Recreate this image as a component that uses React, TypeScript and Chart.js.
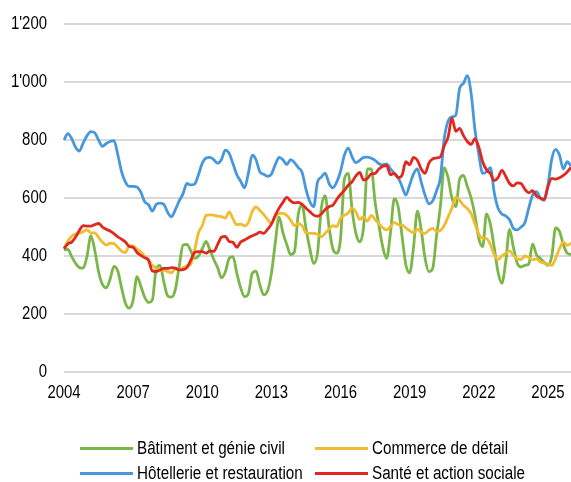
import React, { useEffect, useRef } from "react";
import { Chart, registerables } from "chart.js";

Chart.register(...registerables);

// Bimonthly observations (Jan, Mar, May, Jul, Sep, Nov) from Jan 2004 to Jan 2026
const START_YEAR = 2004;
const MONTHS = ["01", "03", "05", "07", "09", "11"];
const TICK_YEARS = [2004, 2007, 2010, 2013, 2016, 2019, 2022, 2025];
const Y_TICKS = [0, 200, 400, 600, 800, 1000, 1200];

const SERIES_NAMES = [
  "Bâtiment et génie civil",
  "Commerce de détail",
  "Hôtellerie et restauration",
  "Santé et action sociale",
];

const batiment = [
  421, 423, 398, 375, 360, 358,
  400, 470, 420, 346, 302, 290,
  320, 364, 348, 290, 237, 220,
  248, 329, 296, 258, 240, 248,
  355, 368, 310, 262, 258, 285,
  365, 438, 440, 418, 392, 400,
  425, 450, 420, 388, 360, 325,
  345, 392, 398, 340, 290, 260,
  270, 340, 348, 300, 266, 280,
  340, 445, 535, 480, 440, 405,
  415, 545, 575, 495, 426, 374,
  410, 565, 608, 500, 425, 410,
  460, 665, 685, 560, 478, 449,
  500, 700, 700, 585, 505, 430,
  392, 480, 598, 570, 470, 370,
  342, 430, 555, 490, 392, 346,
  358, 470, 572, 705, 670, 600,
  570, 665, 678, 640, 600, 540,
  460, 432, 545, 510, 430, 345,
  306, 380, 492, 430, 375, 362,
  368, 372, 442, 405, 392, 378,
  368, 400, 497, 485, 440, 410,
  405,
];

const commerce = [
  426, 452, 468, 476, 478, 484,
  490, 479, 480, 464, 448, 438,
  444, 443, 430, 417, 412, 436,
  434, 424, 414, 400, 386, 368,
  358, 352, 350, 346, 342, 356,
  352, 360, 366, 372, 420, 480,
  505, 540, 542, 541, 537, 536,
  531, 552, 528, 508, 510, 504,
  515, 553, 569, 557, 543, 526,
  512, 534, 547, 547, 540, 524,
  505, 512, 504, 480, 478, 478,
  475, 466, 478, 492, 505, 501,
  530, 540, 548, 565, 552, 526,
  536, 520, 540, 526, 511, 497,
  490, 502, 516, 508, 507, 497,
  487, 480, 493, 482, 478, 489,
  495, 485, 488, 505, 535, 565,
  603, 592, 575, 564, 546, 510,
  475, 461, 460, 440, 405, 388,
  400, 409, 418, 402, 390, 388,
  400, 395, 387, 390, 380, 375,
  372, 368, 392, 425, 448, 437,
  444,
];

const hotellerie = [
  800, 822, 805, 775, 762, 790,
  815, 829, 825, 800, 778, 788,
  795, 798, 750, 690, 655, 640,
  640, 638, 620, 587, 577, 555,
  578, 582, 578, 550, 535, 560,
  590, 615, 650, 645, 648, 680,
  720, 738, 740, 732, 720, 733,
  765, 754, 718, 680, 658, 635,
  685, 748, 732, 690, 682, 675,
  682, 715, 740, 732, 715, 732,
  722, 705, 688, 630, 588, 570,
  655, 672, 686, 650, 635, 655,
  692, 748, 772, 742, 722, 730,
  740, 741, 737, 730, 718, 714,
  718, 700, 685, 670, 640, 610,
  645, 683, 700, 655, 610, 580,
  590, 625, 670, 805, 865, 880,
  885, 978, 995, 1022, 960, 835,
  750, 685, 690, 705, 620, 565,
  545, 538, 525, 495, 490, 500,
  515, 565, 610, 622, 600, 592,
  645, 735, 768, 748, 700, 725,
  710,
];

const sante = [
  425, 442, 448, 465, 488, 505,
  503, 503, 508, 512, 500, 492,
  486, 477, 466, 458, 448, 433,
  430, 412, 402, 394, 386, 348,
  346, 352, 357, 357, 360, 358,
  352, 353, 360, 385, 412, 415,
  415, 410, 418, 416, 440, 465,
  468, 450, 447, 430, 448, 455,
  463, 470, 475, 482, 478, 492,
  510, 540, 565, 585, 602, 590,
  583, 585, 578, 565, 553, 541,
  537, 545, 560, 570, 575, 595,
  612, 626, 644, 656, 676, 688,
  662, 668, 683, 685, 700, 710,
  712, 680, 685, 670, 678, 725,
  715, 740, 730, 700, 685, 720,
  735, 738, 742, 780, 810, 875,
  830, 840, 815, 795, 785, 805,
  775, 725, 697, 685, 660, 670,
  695, 675, 650, 642, 652, 650,
  630, 618, 625, 607, 600, 595,
  640, 668, 665, 670, 678, 690,
  705,
];

const labels = batiment.map(
  (_, i) => `${START_YEAR + Math.floor(i / MONTHS.length)}-${MONTHS[i % MONTHS.length]}`
);

const COLORS = {
  batiment: "#7ab648",
  commerce: "#f0bc30",
  hotellerie: "#4797dd",
  sante: "#e0281f",
};

const FONT = '"Liberation Sans", Arial, Helvetica, sans-serif';
const FONT_SIZE = 18;
const NARROW = 0.83; // horizontal squeeze to imitate a narrow sans face

const formatThousands = (v: number) =>
  v >= 1000 ? `${Math.floor(v / 1000)}'${String(v % 1000).padStart(3, "0")}` : String(v);

const LEGEND = [
  { name: SERIES_NAMES[0], color: COLORS.batiment, left: 80, top: 448 },
  { name: SERIES_NAMES[1], color: COLORS.commerce, left: 315, top: 448 },
  { name: SERIES_NAMES[2], color: COLORS.hotellerie, left: 80, top: 473 },
  { name: SERIES_NAMES[3], color: COLORS.sante, left: 315, top: 473 },
];

// Draws the axis tick labels in a condensed form
const narrowTicksPlugin = {
  id: "narrowTicks",
  afterDraw(chart: any) {
    const { ctx } = chart;
    const xs = chart.scales.x;
    const ys = chart.scales.y;
    ctx.save();
    ctx.fillStyle = "#000";
    ctx.font = `${FONT_SIZE}px ${FONT}`;
    ctx.textBaseline = "middle";
    ctx.textAlign = "right";
    for (const v of Y_TICKS) {
      ctx.save();
      ctx.translate(ys.right - 17, ys.getPixelForValue(v));
      ctx.scale(NARROW, 1);
      ctx.fillText(formatThousands(v), 0, 0);
      ctx.restore();
    }
    ctx.textAlign = "center";
    for (const yr of TICK_YEARS) {
      const idx = labels.indexOf(`${yr}-01`);
      if (idx < 0) continue;
      ctx.save();
      ctx.translate(xs.getPixelForValue(idx), xs.top + 21.5);
      ctx.scale(NARROW, 1);
      ctx.fillText(String(yr), 0, 0);
      ctx.restore();
    }
    ctx.restore();
  },
};

export default function App() {
  const ref = useRef<HTMLCanvasElement>(null);

  useEffect(() => {
    if (!ref.current) return;
    const common = {
      borderWidth: 2.8,
      pointRadius: 0,
      pointHoverRadius: 0,
      fill: false,
      cubicInterpolationMode: "monotone" as const,
    };
    const chart = new Chart(ref.current, {
      type: "line",
      data: {
        labels,
        // first dataset is drawn on top
        datasets: [
          { label: SERIES_NAMES[3], data: sante, borderColor: COLORS.sante, backgroundColor: COLORS.sante, ...common },
          { label: SERIES_NAMES[2], data: hotellerie, borderColor: COLORS.hotellerie, backgroundColor: COLORS.hotellerie, ...common },
          { label: SERIES_NAMES[1], data: commerce, borderColor: COLORS.commerce, backgroundColor: COLORS.commerce, ...common },
          { label: SERIES_NAMES[0], data: batiment, borderColor: COLORS.batiment, backgroundColor: COLORS.batiment, ...common },
        ],
      },
      options: {
        responsive: false,
        animation: false,
        devicePixelRatio: 1,
        layout: { padding: { left: 11, right: 0, top: 24, bottom: 82 } },
        plugins: {
          legend: { display: false },
          tooltip: { enabled: false },
        },
        scales: {
          x: {
            type: "category",
            grid: { display: false, drawTicks: false },
            border: { display: false },
            afterFit: (scale: any) => {
              scale.paddingLeft = 0;
              scale.paddingRight = 0;
              scale.height = 28;
            },
            ticks: { display: false, autoSkip: false, maxRotation: 0, minRotation: 0 },
          },
          y: {
            min: Y_TICKS[0],
            max: Y_TICKS[Y_TICKS.length - 1],
            grid: { color: "#d9d9d9", lineWidth: 2, drawTicks: false },
            border: { display: false },
            afterFit: (scale: any) => {
              scale.width = 53;
            },
            ticks: { display: false, stepSize: Y_TICKS[1] - Y_TICKS[0] },
          },
        },
      },
      plugins: [narrowTicksPlugin],
    });
    return () => chart.destroy();
  }, []);

  return (
    <div
      style={{
        position: "fixed",
        left: 0,
        top: 0,
        width: 571,
        height: 482,
        background: "#fff",
        fontFamily: FONT,
      }}
    >
      <canvas ref={ref} width={571} height={482} style={{ display: "block", width: 571, height: 482 }} />
      {LEGEND.map((item) => (
        <div
          key={item.name}
          style={{
            position: "absolute",
            left: item.left,
            top: item.top - 11,
            height: 22,
            display: "flex",
            alignItems: "center",
            whiteSpace: "nowrap",
            fontSize: FONT_SIZE,
            color: "#000",
          }}
        >
          <span style={{ display: "inline-block", width: 53, height: 3, background: item.color, marginRight: 4 }} />
          <span style={{ display: "inline-block", transform: `scaleX(${NARROW + 0.015})`, transformOrigin: "left center" }}>
            {item.name}
          </span>
        </div>
      ))}
    </div>
  );
}
